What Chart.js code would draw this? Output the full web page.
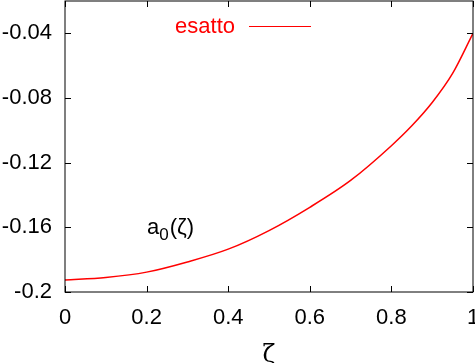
<!DOCTYPE html>
<html lang="it">
<head>
  <meta charset="UTF-8" />
  <title>a0(zeta) esatto</title>
  <script src="https://cdn.jsdelivr.net/npm/chart.js"></script>
  <style>
    html, body { margin: 0; padding: 0; background: #fff; overflow: hidden; }
    canvas { display: block; }
  </style>
</head>
<body>
  <canvas id="chart" width="475" height="363"></canvas>

  <script>
    // values
    const zeta = [0, 0.1, 0.2, 0.3, 0.4, 0.5, 0.6, 0.7, 0.8, 0.85, 0.9, 0.95, 1.0];
    const esatto = [-0.1926, -0.1910, -0.1877, -0.1814, -0.1735, -0.1620, -0.1476, -0.1310, -0.1095, -0.0972, -0.0828, -0.0648, -0.0400];
    const xTicks = [0, 0.2, 0.4, 0.6, 0.8, 1];
    const yTicks = [-0.2, -0.16, -0.12, -0.08, -0.04];

    const FONT = "'Liberation Sans', Arial, sans-serif";
    const RED = '#ff0000';

    // frame + inward ticks on all four sides (gnuplot style), legend and label
    const frame = {
      id: 'frame',
      afterDatasetsDraw(chart) {
        const { ctx, chartArea: a, scales } = chart;
        ctx.save();
        ctx.strokeStyle = '#000';
        ctx.lineWidth = 1;
        ctx.strokeRect(a.left, a.top, a.right - a.left, a.bottom - a.top);
        ctx.beginPath();
        xTicks.forEach(v => {
          const px = Math.round(scales.x.getPixelForValue(v)) + 0.5;
          ctx.moveTo(px, a.bottom); ctx.lineTo(px, a.bottom - 6);
          ctx.moveTo(px, a.top); ctx.lineTo(px, a.top + 6);
        });
        yTicks.forEach(v => {
          const py = Math.round(scales.y.getPixelForValue(v)) + 0.5;
          ctx.moveTo(a.left, py); ctx.lineTo(a.left + 6, py);
          ctx.moveTo(a.right, py); ctx.lineTo(a.right - 6, py);
        });
        ctx.stroke();

        // key
        ctx.fillStyle = RED;
        ctx.font = '22px ' + FONT;
        ctx.textAlign = 'right';
        ctx.textBaseline = 'middle';
        ctx.fillText(chart.data.datasets[0].label, 235, 27);
        ctx.strokeStyle = RED;
        ctx.beginPath();
        ctx.moveTo(249, 26.5); ctx.lineTo(311, 26.5);
        ctx.stroke();

        // a0(zeta) label
        ctx.fillStyle = '#000';
        ctx.textAlign = 'left';
        ctx.textBaseline = 'alphabetic';
        ctx.font = '22px ' + FONT;
        ctx.fillText('a', 147, 234);
        const wa = ctx.measureText('a').width;
        ctx.font = '17px ' + FONT;
        ctx.fillText('0', 147 + wa, 240);
        const w0 = ctx.measureText('0').width;
        ctx.font = '22px ' + FONT;
        ctx.fillText('(\u03b6)', 147 + wa + w0 + 1, 234);
        ctx.restore();
      }
    };

    new Chart(document.getElementById('chart'), {
      type: 'scatter',
      data: {
        datasets: [{
          label: 'esatto',
          data: zeta.map((z, i) => ({ x: z, y: esatto[i] })),
          showLine: true,
          borderColor: RED,
          borderWidth: 1.5,
          pointRadius: 0,
          cubicInterpolationMode: 'monotone'
        }]
      },
      options: {
        responsive: false,
        animation: false,
        devicePixelRatio: 1,
        layout: { padding: { top: 1, right: 2, left: 0, bottom: 0 } },
        plugins: { legend: { display: false }, tooltip: { enabled: false } },
        scales: {
          x: {
            type: 'linear',
            min: 0, max: 1,
            afterBuildTicks: s => { s.ticks = xTicks.map(v => ({ value: v })); },
            afterFit: s => { s.height = 71; s.paddingLeft = 0; s.paddingRight = 0; },
            grid: { display: false, drawTicks: false },
            border: { display: false },
            ticks: {
              color: '#000',
              padding: 13,
              maxRotation: 0,
              font: { family: FONT, size: 22 },
              callback: v => String(Number(v.toFixed(2)))
            },
            title: {
              display: true,
              text: '\u03b6',
              color: '#000',
              padding: { top: 9, bottom: -7 },
              font: { family: "'DejaVu Serif', serif", size: 24 }
            }
          },
          y: {
            type: 'linear',
            min: -0.2, max: -0.02,
            afterBuildTicks: s => { s.ticks = yTicks.map(v => ({ value: v })); },
            afterFit: s => { s.width = 65; s.paddingTop = 0; s.paddingBottom = 0; },
            grid: { display: false, drawTicks: false },
            border: { display: false },
            ticks: {
              color: '#000',
              padding: 13,
              font: { family: FONT, size: 22 },
              callback: v => String(Number(v.toFixed(2)))
            }
          }
        }
      },
      plugins: [frame]
    });
  </script>
</body>
</html>
